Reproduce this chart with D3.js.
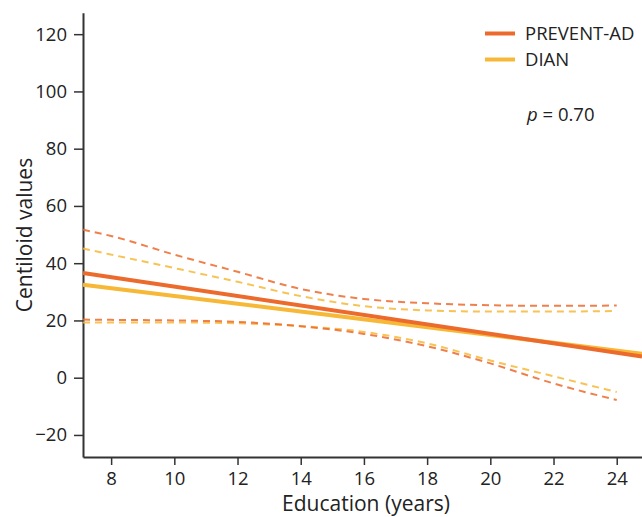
<!DOCTYPE html>
<html>
<head>
<meta charset="utf-8">
<script src="https://cdn.jsdelivr.net/npm/d3@7"></script>
<style>
  body { margin: 0; background: #fff; }
  svg { display: block; font-family: "Open Sans", "Noto Sans", sans-serif; }
</style>
</head>
<body>
<svg width="642" height="517"></svg>
<script>
// fitted lines (education years at the ends of the plot)
const fitYears = [7.11, 24.8];
const preventFit = [36.6, 7.4];
const dianFit = [32.5, 8.4];

// confidence bands
const bandYears = [7.11, 8, 10, 12, 14, 16, 18, 20, 22, 24];
const preventUpper = [51.7, 49.5, 43, 37, 31, 27.5, 26, 25.3, 25.1, 25.2];
const preventLower = [20.3, 20.2, 20, 19.5, 18, 15.3, 11, 5, -2, -7.8];
const dianUpper = [45.1, 43, 38.3, 33.5, 28.5, 25, 23.5, 23.1, 23.1, 23.3];
const dianLower = [19.3, 19.3, 19.3, 19, 18, 16, 12, 6, 0.5, -5];

const xTicks = [8, 10, 12, 14, 16, 18, 20, 22, 24];
const yTicks = [-20, 0, 20, 40, 60, 80, 100, 120];
const seriesNames = ["PREVENT-AD", "DIAN"];
const seriesColors = ["#ec6a2c", "#f6b836"];

const svg = d3.select("svg");
const plotLeft = 83, plotRight = 642, plotTop = 12.7, plotBottom = 457;

const x = d3.scaleLinear().domain([7.11, 24.8]).range([plotLeft, plotRight]);
const y = d3.scaleLinear().domain([-27.7, 127.5]).range([plotBottom, plotTop]);

// axes
const xAxis = svg.append("g")
    .attr("transform", `translate(0,${plotBottom})`)
    .call(d3.axisBottom(x).tickValues(xTicks).tickSize(8).tickPadding(7).tickSizeOuter(0));
const yAxis = svg.append("g")
    .attr("transform", `translate(${plotLeft},0)`)
    .call(d3.axisLeft(y).tickValues(yTicks).tickSize(9).tickPadding(7).tickSizeOuter(0)
        .tickFormat(d => d < 0 ? "\u2212" + Math.abs(d) : d));

[xAxis, yAxis].forEach(a => {
    a.select(".domain").attr("stroke", "#333").attr("stroke-width", 2);
    a.selectAll(".tick line").attr("stroke", "#333").attr("stroke-width", 1.5);
    a.selectAll(".tick text").attr("fill", "#222").style("font-size", "18.5px")
        .style("font-family", "'Open Sans', sans-serif");
});

// labels
svg.append("text")
    .attr("x", 366).attr("y", 511)
    .attr("text-anchor", "middle")
    .attr("fill", "#222")
    .style("font-size", "21px")
    .text("Education (years)");

svg.append("text")
    .attr("transform", "translate(32,235) rotate(-90)")
    .attr("text-anchor", "middle")
    .attr("fill", "#222")
    .style("font-size", "21px")
    .text("Centiloid values");

const line = d3.line().x(d => x(d[0])).y(d => y(d[1]));
const curve = d3.line().x(d => x(d[0])).y(d => y(d[1])).curve(d3.curveMonotoneX);

const bands = [
    [dianUpper, 1], [dianLower, 1],
    [preventUpper, 0], [preventLower, 0]
];
bands.forEach(([vals, i]) => {
    svg.append("path")
        .attr("d", curve(bandYears.map((yr, k) => [yr, vals[k]])))
        .attr("fill", "none")
        .attr("stroke", seriesColors[i])
        .attr("stroke-opacity", 0.85)
        .attr("stroke-width", 2)
        .attr("stroke-dasharray", "7,5");
});

[[dianFit, 1], [preventFit, 0]].forEach(([vals, i]) => {
    svg.append("path")
        .attr("d", line(fitYears.map((yr, k) => [yr, vals[k]])))
        .attr("fill", "none")
        .attr("stroke", seriesColors[i])
        .attr("stroke-width", 4);
});

// legend
const legend = svg.append("g");
seriesNames.forEach((name, i) => {
    const ly = 33.5 + i * 26;
    legend.append("line")
        .attr("x1", 485).attr("x2", 515)
        .attr("y1", ly).attr("y2", ly)
        .attr("stroke", seriesColors[i])
        .attr("stroke-width", 4);
    legend.append("text")
        .attr("x", 525).attr("y", ly + 6.5)
        .attr("fill", "#222")
        .style("font-size", "18.5px")
        .text(name);
});

const pText = svg.append("text")
    .attr("x", 527).attr("y", 121)
    .attr("fill", "#222")
    .style("font-size", "18.5px");
pText.append("tspan").style("font-style", "italic").text("p");
pText.append("tspan").text(" = 0.70");
</script>
</body>
</html>
